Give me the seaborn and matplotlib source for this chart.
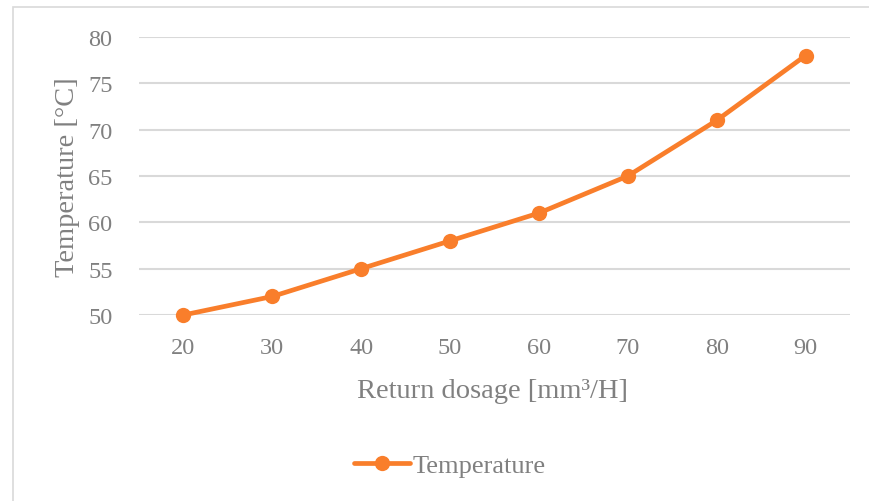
import matplotlib
matplotlib.use("Agg")
import matplotlib.pyplot as plt
import seaborn as sns
import pandas as pd
from matplotlib.patches import Rectangle

dosage = [20, 30, 40, 50, 60, 70, 80, 90]
temperature = [50, 52, 55, 58, 61, 65, 71, 78]
y_ticks = [50, 55, 60, 65, 70, 75, 80]

df = pd.DataFrame({"Return dosage": dosage, "Temperature": temperature})

sns.set_theme(style="white")
plt.rcParams["font.family"] = ["Liberation Serif", "DejaVu Serif"]

TXT = "#808080"
GRID = "#D9D9D9"
ORANGE = "#F97E2B"

fig = plt.figure(figsize=(8.7, 5.02), dpi=100)
fig.patch.set_facecolor("white")
fig.patches.append(Rectangle((13 / 870, -0.2), 1.2, 1.2 - 8 / 502,
                             transform=fig.transFigure, fill=False,
                             edgecolor=GRID, linewidth=1.2, zorder=0))
ax = fig.add_axes([139 / 870, 1 - 316 / 502, (850 - 139) / 870, (316 - 38) / 502])

sns.lineplot(data=df, x="Return dosage", y="Temperature", ax=ax, color=ORANGE,
             linewidth=3.4, marker="o", markersize=11, markeredgewidth=0,
             label="Temperature", legend=False)
for ln in ax.lines:
    ln.set_clip_on(False)
    ln.set_zorder(3)

ax.set_xlim(15, 95)
ax.set_ylim(50, 80)
ax.set_xticks(dosage)
ax.set_yticks(y_ticks)
ax.grid(axis="y", color=GRID, linewidth=1.5)
ax.set_axisbelow(True)
for s in ax.spines.values():
    s.set_visible(False)
ax.tick_params(axis="both", length=0, labelsize=17.5, labelcolor=TXT)
ax.tick_params(axis="y", pad=19)
ax.tick_params(axis="x", pad=16)
ax.set_xlabel("")
ax.set_ylabel("")

fig.text(493 / 870, 1 - 392 / 502, "Return dosage [mm³/H]", ha="center", va="center",
         fontsize=20.5, color=TXT)
fig.text(68 / 870, 1 - 177 / 502, "Temperature [°C]", ha="center", va="center",
         rotation=90, fontsize=20.5, color=TXT)

handles, labels = ax.get_legend_handles_labels()
leg = fig.legend(handles, labels, loc="center", bbox_to_anchor=(450 / 870, 1 - 466 / 502),
                 frameon=False, fontsize=19, handlelength=2.1, handletextpad=0.1,
                 labelcolor=TXT)

fig.savefig("out.png", dpi=100, facecolor="white")
